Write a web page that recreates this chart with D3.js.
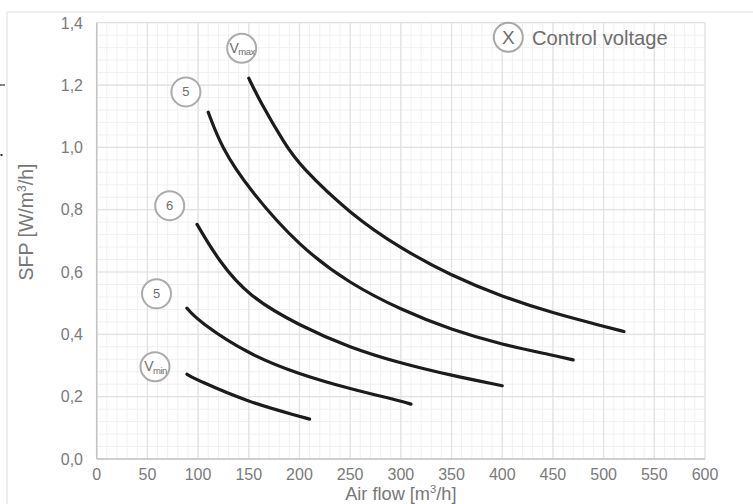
<!DOCTYPE html>
<html>
<head>
<meta charset="utf-8">
<script src="https://cdn.jsdelivr.net/npm/d3@7"></script>
<style>
  html, body { margin: 0; padding: 0; background: #fff; }
  svg { display: block; font-family: "Liberation Sans", Arial, Helvetica, sans-serif; }
</style>
</head>
<body>
<svg id="chart" width="753" height="504"></svg>
<script>
// ---- data ----
const curveNames = ["Vmax", "5a", "6", "5b", "Vmin"];
const curveLabels = ["V|max", "5", "6", "5", "V|min"];
const airVmax = [150, 160, 186, 200, 250, 300, 350, 400, 450, 500, 520];
const sfpVmax = [1.222, 1.154, 1.008, 0.943, 0.786, 0.675, 0.588, 0.521, 0.468, 0.426, 0.409];
const air5a = [110, 123, 150, 200, 250, 300, 350, 400, 450, 470];
const sfp5a = [1.113, 1.0, 0.866, 0.681, 0.562, 0.479, 0.414, 0.367, 0.333, 0.318];
const air6 = [99, 120, 150, 200, 250, 300, 350, 400];
const sfp6 = [0.753, 0.637, 0.521, 0.428, 0.357, 0.307, 0.268, 0.235];
const air5b = [89, 100, 150, 200, 250, 300, 310];
const sfp5b = [0.484, 0.443, 0.335, 0.272, 0.225, 0.186, 0.176];
const airVmin = [89, 100, 150, 200, 210];
const sfpVmin = [0.272, 0.252, 0.182, 0.137, 0.128];
// label anchor (data units) for each curve's circled marker
const labelAir = [143, 88, 72, 59, 57.5];
const labelSfp = [1.318, 1.178, 0.813, 0.530, 0.296];
const xTicks = [0, 50, 100, 150, 200, 250, 300, 350, 400, 450, 500, 550, 600];
const yTicks = [0.0, 0.2, 0.4, 0.6, 0.8, 1.0, 1.2, 1.4];
const xTitle = "Air flow [m|3|/h]";
const yTitle = "SFP [W/m|3|/h]";
const legendSymbol = "X";
const legendText = "Control voltage";

const series = [
  {air: airVmax, sfp: sfpVmax},
  {air: air5a, sfp: sfp5a},
  {air: air6, sfp: sfp6},
  {air: air5b, sfp: sfp5b},
  {air: airVmin, sfp: sfpVmin}
];

// ---- layout ----
const svg = d3.select("#chart");
const x = d3.scaleLinear().domain([0, 600]).range([96.7, 705]);
const y = d3.scaleLinear().domain([0, 1.4]).range([459, 22.7]);

// outer frame lines
svg.append("line").attr("x1", 7).attr("x2", 753).attr("y1", 12).attr("y2", 12)
  .attr("stroke", "#e2e2e2").attr("stroke-width", 1.2);
svg.append("line").attr("x1", 7).attr("x2", 7).attr("y1", 12).attr("y2", 504)
  .attr("stroke", "#e2e2e2").attr("stroke-width", 1.2);
// stray marks at left edge
svg.append("line").attr("x1", 0).attr("x2", 5).attr("y1", 85).attr("y2", 85)
  .attr("stroke", "#333").attr("stroke-width", 1.2);
svg.append("rect").attr("x", 0.5).attr("y", 154).attr("width", 2).attr("height", 2).attr("fill", "#333");

// minor grid
const g = svg.append("g");
g.selectAll(".vminor").data(d3.range(0, 601, 10)).join("line")
  .attr("x1", d => x(d)).attr("x2", d => x(d)).attr("y1", y(0)).attr("y2", y(1.4))
  .attr("stroke", "#f0f0f0").attr("stroke-width", 1);
g.selectAll(".hminor").data(d3.range(0, 36).map(i => i * 0.04)).join("line")
  .attr("x1", x(0)).attr("x2", x(600)).attr("y1", d => y(d)).attr("y2", d => y(d))
  .attr("stroke", "#f0f0f0").attr("stroke-width", 1);
// major grid
g.selectAll(".vmajor").data(xTicks).join("line")
  .attr("x1", d => x(d)).attr("x2", d => x(d)).attr("y1", y(0)).attr("y2", y(1.4))
  .attr("stroke", "#e1e1e1").attr("stroke-width", 1.2);
g.selectAll(".hmajor").data(yTicks).join("line")
  .attr("x1", x(0)).attr("x2", x(600)).attr("y1", d => y(d)).attr("y2", d => y(d))
  .attr("stroke", "#e1e1e1").attr("stroke-width", 1.2);

// axes lines
svg.append("line").attr("x1", x(0)).attr("x2", x(0)).attr("y1", y(0)).attr("y2", y(1.4))
  .attr("stroke", "#c4c4c4").attr("stroke-width", 1.5);
svg.append("line").attr("x1", x(0)).attr("x2", x(600)).attr("y1", y(0)).attr("y2", y(0))
  .attr("stroke", "#c4c4c4").attr("stroke-width", 1.5);

// tick labels
const fmt = d => d3.format(".1f")(d).replace(".", ",");
svg.selectAll(".xt").data(xTicks).join("text")
  .attr("x", d => x(d)).attr("y", 480).attr("text-anchor", "middle")
  .attr("font-size", 16).attr("fill", "#7a7a7a").text(d => d);
svg.selectAll(".yt").data(yTicks).join("text")
  .attr("x", 83).attr("y", d => y(d) + 5.8).attr("text-anchor", "end")
  .attr("font-size", 16).attr("fill", "#7a7a7a").text(fmt);

// titles with superscript
function supText(sel, str, size) {
  const parts = str.split("|");
  parts.forEach((p, i) => {
    const t = sel.append("tspan").text(p);
    if (i === 1) t.attr("font-size", size * 0.62).attr("dy", -size * 0.38);
    if (i === 2) t.attr("dy", size * 0.38);
  });
}
const xt = svg.append("text").attr("x", x(300)).attr("y", 500).attr("text-anchor", "middle")
  .attr("font-size", 18.2).attr("fill", "#777");
supText(xt, xTitle, 18.2);
const yt = svg.append("text").attr("transform", `translate(33,222) rotate(-90)`)
  .attr("text-anchor", "middle").attr("font-size", 19.5).attr("fill", "#777");
supText(yt, yTitle, 19.5);

// curves
const line = d3.line().x(d => x(d[0])).y(d => y(d[1])).curve(d3.curveBasis);
svg.selectAll(".curve").data(series).join("path")
  .attr("d", s => line(s.air.map((a, i) => [a, s.sfp[i]])))
  .attr("fill", "none").attr("stroke", "#1c1c1c").attr("stroke-width", 3.2)
  .attr("stroke-linecap", "round");

// circled labels
curveLabels.forEach((lab, i) => {
  const cx = x(labelAir[i]), cy = y(labelSfp[i]);
  svg.append("circle").attr("cx", cx).attr("cy", cy).attr("r", 14.5)
    .attr("fill", "#fff").attr("stroke", "#ababab").attr("stroke-width", 2);
  const parts = lab.split("|");
  const t = svg.append("text").attr("x", cx).attr("y", cy + 4.6).attr("text-anchor", "middle")
    .attr("fill", "#6e6e6e");
  if (parts.length === 1) {
    t.attr("font-size", 13).text(parts[0]);
  } else {
    t.attr("font-size", 14).attr("x", cx + 0.5).attr("letter-spacing", -0.5);
    t.append("tspan").text(parts[0]);
    t.append("tspan").attr("font-size", 9.5).attr("dy", 2.5).text(parts[1]);
  }
});

// legend
svg.append("circle").attr("cx", 508.3).attr("cy", 37.3).attr("r", 14.5)
  .attr("fill", "#fff").attr("stroke", "#a8a8a8").attr("stroke-width", 2);
svg.append("text").attr("x", 508.3).attr("y", 44).attr("text-anchor", "middle")
  .attr("font-size", 19).attr("fill", "#6e6e6e").text(legendSymbol);
svg.append("text").attr("x", 532).attr("y", 45).attr("font-size", 20.2)
  .attr("fill", "#6e6e6e").text(legendText);
</script>
</body>
</html>
